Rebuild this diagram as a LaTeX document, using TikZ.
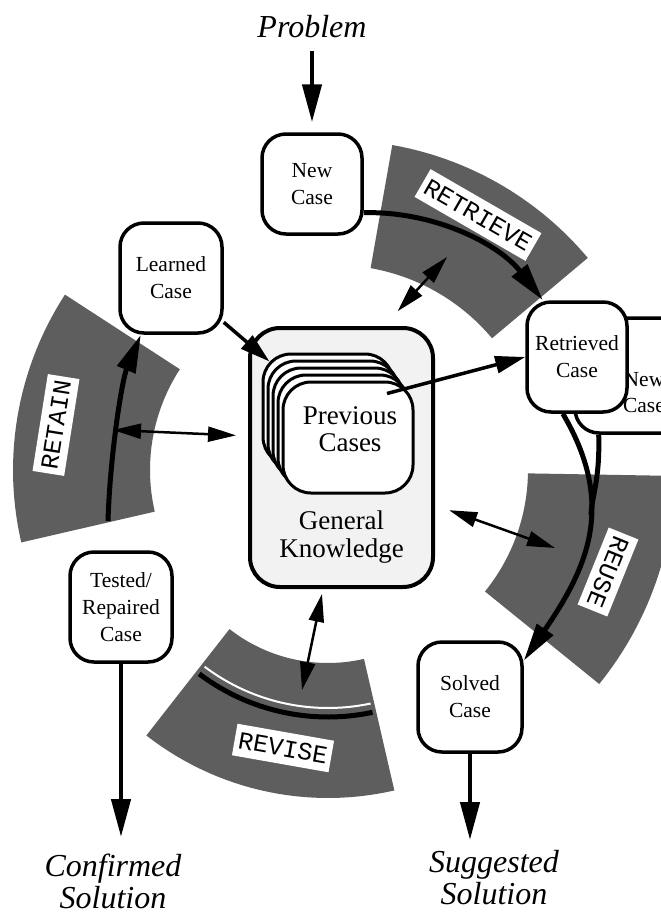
\documentclass[tikz,border=0pt]{standalone}
\usepackage{fontspec}
\setmainfont{Liberation Serif}
\newfontfamily\bandfont{Liberation Mono}
\usetikzlibrary{arrows.meta,calc}
\begin{document}
\begin{tikzpicture}[x=1pt,y=-1pt,
  casebox/.style={draw, line width=3.5pt, rounded corners=24pt, fill=white, align=center, inner sep=0pt, font=\fontsize{21.5}{27}\selectfont},
  card/.style={draw, line width=3pt, rounded corners=28pt, fill=white, minimum width=130pt, minimum height=111pt, inner sep=0pt},
  outtext/.style={font=\fontsize{32}{32}\selectfont\itshape, align=center, inner sep=0pt},
  bigtext/.style={font=\fontsize{27}{27.5}\selectfont, align=center, inner sep=0pt},
  band/.style={fill=black!63},
  bandlabel/.style={fill=white, inner sep=4pt, minimum height=32pt, font=\bandfont\fontsize{25}{25}\selectfont},
  mainarrow/.style={line width=4.5pt, -{Triangle[length=38pt,width=19pt]}},
  arcarrow/.style={line width=5pt, -{Triangle[length=38pt,width=19pt]}},
  dblarrow/.style={line width=2.5pt, {Triangle[length=28pt,width=15pt]}-{Triangle[length=28pt,width=15pt]}},
  linkarrow/.style={line width=3.5pt, -{Triangle[length=30pt,width=17pt]}}
]
\useasboundingbox (0,0) rectangle (661,914);
\fill[white] (0,0) rectangle (661,914);
\clip (0,0) rectangle (661,914);

% bands
\fill[band] plot[domain=40:80,samples=30] ({335+330*cos(\x)},{470-330*sin(\x)}) -- plot[domain=80:40,samples=30] ({335+205*cos(\x)},{470-205*sin(\x)}) -- cycle;
\fill[band] plot[domain=147:193,samples=30] ({335+322*cos(\x)},{470-322*sin(\x)}) -- plot[domain=193:147,samples=30] ({335+185*cos(\x)},{470-185*sin(\x)}) -- cycle;
\fill[band] plot[domain=-39:-1,samples=30] ({335+340*cos(\x)},{470-340*sin(\x)}) -- plot[domain=-1:-39,samples=30] ({335+193*cos(\x)},{470-193*sin(\x)}) -- cycle;
\fill[band] plot[domain=232:283,samples=30] ({328+295*cos(\x)},{503-295*sin(\x)}) -- plot[domain=283:232,samples=30] ({328+160*cos(\x)},{503-160*sin(\x)}) -- cycle;

% band labels
\node[bandlabel, rotate=-30] (retrievelbl) at (478,215) {RETRIEVE};
\node[bandlabel, rotate=81] (retainlbl) at (56,425) {RETAIN};
\node[bandlabel, rotate=-112] (reuselbl) at (608,572) {REUSE};
\node[bandlabel, rotate=-10] (reviselbl) at (283,748) {REVISE};

% revise arc
\draw[line width=2pt, white] plot[domain=233:282,samples=30] ({328+205*cos(\x)},{503-205*sin(\x)});
\draw[line width=5pt] plot[domain=233:282,samples=30] ({328+214*cos(\x)},{503-214*sin(\x)});

% general knowledge and case base
\node[draw, line width=4pt, rounded corners=30pt, fill=black!5, minimum width=183pt, minimum height=259pt] (gk) at (341.5,457.5) {};
\node[bigtext] (gktext) at (341.5,537) {General\\Knowledge};
\foreach \k in {0,...,3} \node[card] (card\k) at ({328+5*\k},{409.5+7*\k}) {};
\node[card] (prev) at (348,437.5) {};
\node[bigtext] (prevtext) at (350,429) {Previous\\Cases};

% case boxes
\node[casebox, minimum width=100pt, minimum height=100pt] (newcase) at (312,184) {New\\Case};
\node[casebox, minimum width=102pt, minimum height=110pt] (learned) at (171,278) {Learned\\Case};
\node[casebox, minimum width=140pt, minimum height=115pt] (nc2) at (645,375.5) {};
\node[font=\fontsize{21.5}{26}\selectfont, align=center, inner sep=0pt] (nc2text) at (644,393) {New\\Case};
\node[casebox, minimum width=100pt, minimum height=110pt] (retrieved) at (577,357) {Retrieved\\Case};
\node[casebox, minimum width=102pt, minimum height=110pt] (tested) at (121,607) {Tested/\\Repaired\\Case};
\node[casebox, minimum width=104pt, minimum height=110pt] (solved) at (470,697) {Solved\\Case};

% outer texts
\node[outtext, anchor=base] (problem) at (312,37) {Problem};
\node[outtext, anchor=north] (confirmed) at (113,854) {Confirmed\\Solution};
\node[outtext, anchor=north] (suggested) at (494,850) {Suggested\\Solution};

% main arrows
\draw[mainarrow, shorten <=13pt, shorten >=10pt] (problem.south) -- (newcase.north);
\draw[mainarrow, shorten >=17pt] (tested.south) -- (tested.south |- confirmed.north);
\draw[mainarrow, shorten >=10pt] (solved.south) -- (solved.south |- suggested.north);

% cycle arcs
\draw[arcarrow] (newcase.-29) .. controls (433,211) and (498,243) .. (retrieved.121);
\draw[arcarrow] (retrieved.256) .. controls (618,507) and (585,571) .. (solved.34);
\coordinate (reusemerge) at (591,515);
\draw[line width=5pt] (nc2.232) .. controls (600,480) and (592,495) .. (reusemerge);
\coordinate (retainstart) at (108,521);
\draw[arcarrow] (retainstart) .. controls (110,455) and (122,380) .. (learned.242);

% links
\coordinate (stackcorner) at ($(card0.north west)+(8,9)$);
\draw[linkarrow] (learned.-40) -- (stackcorner);
\draw[linkarrow] ($(prev.center)+(39,-44)$) -- (retrieved.west);

% double arrows to knowledge
\coordinate (retrievehub) at (447,257);
\draw[dblarrow, shorten >=20pt] (retrievehub) -- (gk.72);
\coordinate (retainhub) at (113,430);
\draw[dblarrow, shorten >=12pt] (retainhub) -- (gk.167);
\coordinate (reusehub) at (555,548);
\draw[dblarrow, shorten >=15pt] (reusehub) -- (gk.-27);
\coordinate (revisehub) at (302,690);
\draw[dblarrow, shorten >=5pt] (revisehub) -- (gk.262);
\end{tikzpicture}
\end{document}
